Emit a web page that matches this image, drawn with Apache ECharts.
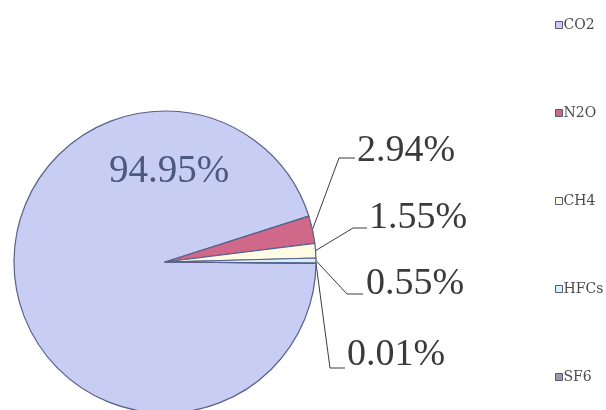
<!DOCTYPE html>
<html>
<head>
<meta charset="utf-8">
<script src="https://cdn.jsdelivr.net/npm/echarts@6/dist/echarts.min.js"></script>
<style>
  html, body { margin: 0; padding: 0; background: #ffffff; }
  #chart { width: 606px; height: 410px; }
</style>
</head>
<body>
<div id="chart"></div>
<script>
// Greenhouse gas shares (%)
const gases = ['CO2', 'N2O', 'CH4', 'HFCs', 'SF6'];
const shares = [94.95, 2.94, 1.55, 0.55, 0.01];
const sliceColors = ['#c8cdf3', '#d0688a', '#fffbe4', '#d4f0ff', '#9a9aa8'];

// Where each value label sits: [textX, textY, elbowX, elbowY, lineEndX]
const labelSpots = [
  [169, 172, null, null, null],
  [357, 151, 339, 158, 355],
  [369, 218, 353, 228, 367],
  [366, 284, 347, 294, 363],
  [347, 355, 330, 368, 345]
];

const chart = echarts.init(document.getElementById('chart'), null, { renderer: 'canvas' });

const seriesData = gases.map((name, i) => ({
  name: name,
  value: shares[i],
  itemStyle: { color: sliceColors[i] },
  label: i === 0
    ? { position: 'inside', color: '#4a5882', fontSize: 39 }
    : { position: 'outside' },
  labelLine: { show: i !== 0 }
}));

chart.setOption({
  animation: false,
  backgroundColor: '#ffffff',
  legend: {
    orient: 'vertical',
    left: 550,
    top: 12,
    itemWidth: 7,
    itemHeight: 7,
    itemGap: 72,
    icon: 'rect',
    data: gases,
    textStyle: {
      fontFamily: 'DejaVu Serif',
      fontSize: 14,
      lineHeight: 16,
      color: '#4a4a4a',
      padding: [0, 0, 0, -4]
    },
    itemStyle: { borderColor: '#555a70', borderWidth: 1 }
  },
  series: [{
    type: 'pie',
    center: [165, 262],
    radius: 151,
    startAngle: -0.5,
    clockwise: true,
    minAngle: 0,
    avoidLabelOverlap: false,
    itemStyle: { borderColor: '#56608a', borderWidth: 1.2 },
    emphasis: { disabled: true },
    label: {
      show: true,
      formatter: p => p.value.toFixed(2) + '%',
      fontFamily: 'Liberation Serif',
      fontSize: 38,
      color: '#3a3a3a'
    },
    labelLine: {
      show: true,
      lineStyle: { color: '#3c3c3c', width: 1 }
    },
    labelLayout: function (params) {
      const s = labelSpots[params.dataIndex];
      const out = {
        x: s[0],
        y: s[1],
        align: params.dataIndex === 0 ? 'center' : 'left',
        verticalAlign: 'middle'
      };
      if (params.dataIndex !== 0 && params.labelLinePoints) {
        const start = params.labelLinePoints[0];
        out.labelLinePoints = [start, [s[2], s[3]], [s[4], s[3]]];
      }
      return out;
    },
    data: seriesData
  }]
});
</script>
</body>
</html>
